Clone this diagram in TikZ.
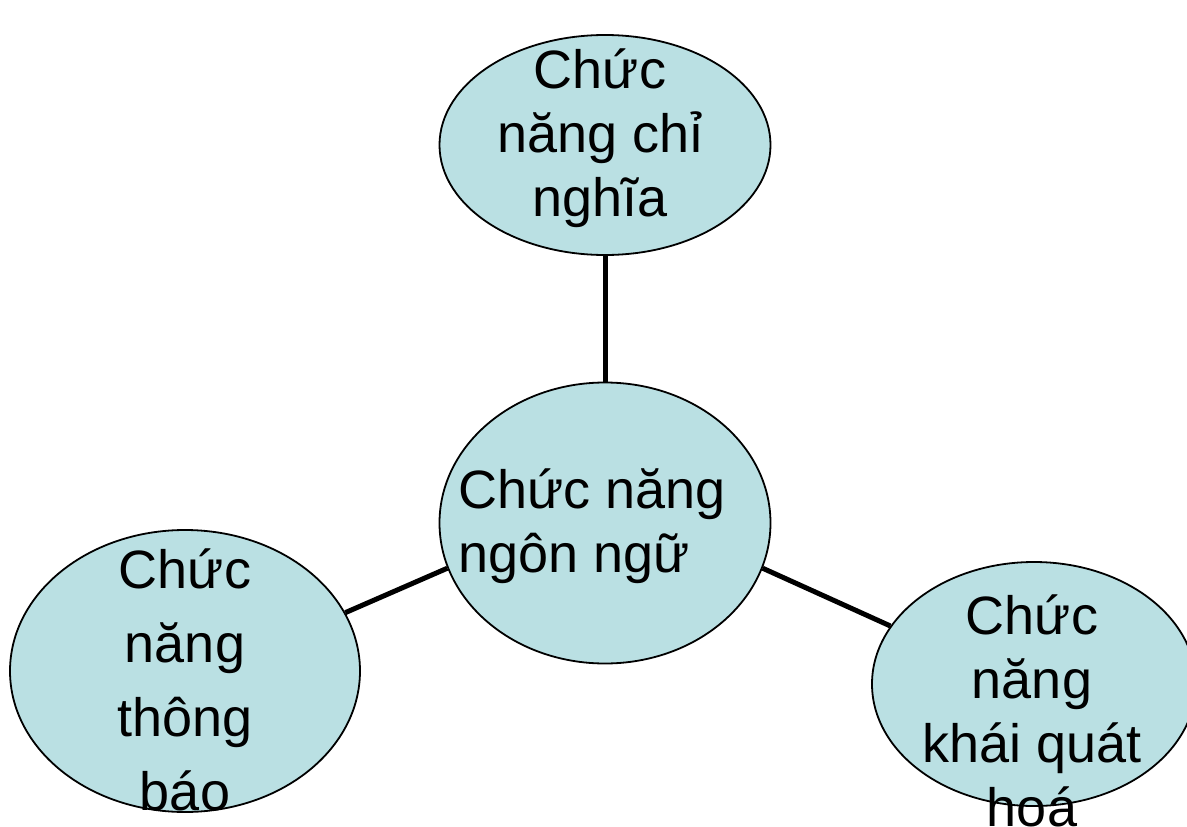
\documentclass[tikz,border=0pt]{standalone}
\usepackage{fontspec}
\setmainfont{Liberation Sans}
\usetikzlibrary{shapes.geometric}
\definecolor{bubblefill}{RGB}{186,224,227}
\begin{document}
\begin{tikzpicture}[x=1pt,y=-1pt,
  bubble/.style={ellipse, draw=black, line width=1.8pt, fill=bubblefill, inner sep=0pt},
  link/.style={line width=5pt, draw=black},
  lbl/.style={font=\fontsize{54}{64}\selectfont, align=center, inner sep=0pt}]
\useasboundingbox (0,0) rectangle (1187,827);
\clip (0,0) rectangle (1187,827);
\fill[white] (0,0) rectangle (1187,827);
\node[bubble, minimum width=331, minimum height=220] (top) at (605,145) {};
\node[bubble, minimum width=331, minimum height=281] (center) at (605,523) {};
\node[bubble, minimum width=350, minimum height=282] (left) at (185,671) {};
\node[bubble, minimum width=324, minimum height=244] (right) at (1034,684) {};
\draw[link] (top.south) -- (center.north);
\draw[link] (left.20) -- (center.196.6);
\draw[link] (center.-16.7) -- (right.158.3);
\node[lbl, anchor=base] (ttop) at (600,216) {Chức\\năng chỉ\\nghĩa};
\node[lbl, align=left, anchor=base west] (tcenter) at (458,572) {Chức năng\\ngôn ngữ};
\node[lbl, font=\fontsize{54}{74}\selectfont, anchor=base] (tleft) at (185,810) {Chức\\năng\\thông\\báo};
\node[lbl, anchor=base] (tright) at (1032,826) {Chức\\năng\\khái quát\\hoá};
\end{tikzpicture}
\end{document}
